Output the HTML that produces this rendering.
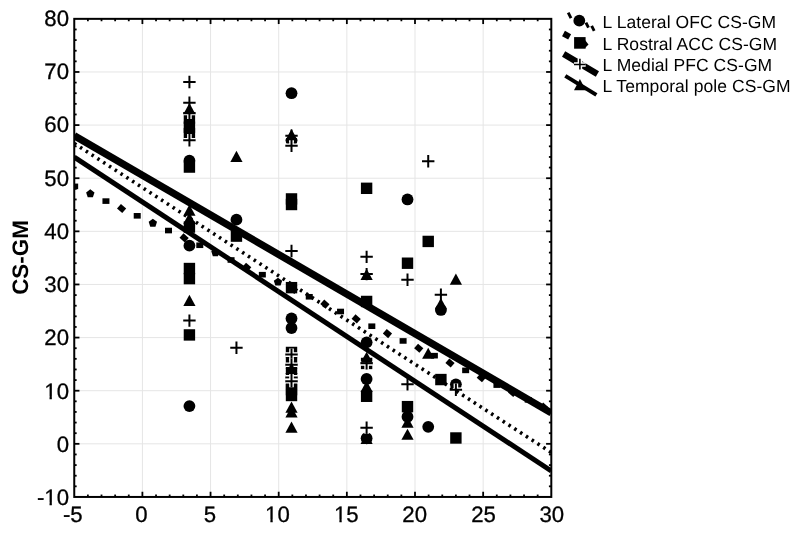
<!DOCTYPE html>
<html><head><meta charset="utf-8"><style>
html,body{margin:0;padding:0;background:#fff;}
body{width:800px;height:535px;overflow:hidden;}
svg{display:block;filter:grayscale(1) blur(0.3px);text-rendering:geometricPrecision;}
</style></head><body>
<svg width="800" height="535" viewBox="0 0 800 535">
<rect width="800" height="535" fill="#fff"/>
<g stroke="#e5e5e5" stroke-width="1" fill="none"><line x1="142.40" y1="18.85" x2="142.40" y2="496.95"/><line x1="210.55" y1="18.85" x2="210.55" y2="496.95"/><line x1="278.70" y1="18.85" x2="278.70" y2="496.95"/><line x1="346.85" y1="18.85" x2="346.85" y2="496.95"/><line x1="415.00" y1="18.85" x2="415.00" y2="496.95"/><line x1="483.15" y1="18.85" x2="483.15" y2="496.95"/><line x1="74.25" y1="443.83" x2="551.30" y2="443.83"/><line x1="74.25" y1="390.71" x2="551.30" y2="390.71"/><line x1="74.25" y1="337.58" x2="551.30" y2="337.58"/><line x1="74.25" y1="284.46" x2="551.30" y2="284.46"/><line x1="74.25" y1="231.34" x2="551.30" y2="231.34"/><line x1="74.25" y1="178.22" x2="551.30" y2="178.22"/><line x1="74.25" y1="125.09" x2="551.30" y2="125.09"/><line x1="74.25" y1="71.97" x2="551.30" y2="71.97"/></g>
<g stroke="#000" stroke-width="1.8" fill="none"><line x1="87.88" y1="496.95" x2="87.88" y2="494.55"/><line x1="87.88" y1="18.85" x2="87.88" y2="21.25"/><line x1="101.51" y1="496.95" x2="101.51" y2="494.55"/><line x1="101.51" y1="18.85" x2="101.51" y2="21.25"/><line x1="115.14" y1="496.95" x2="115.14" y2="494.55"/><line x1="115.14" y1="18.85" x2="115.14" y2="21.25"/><line x1="128.77" y1="496.95" x2="128.77" y2="494.55"/><line x1="128.77" y1="18.85" x2="128.77" y2="21.25"/><line x1="142.40" y1="496.95" x2="142.40" y2="491.75"/><line x1="142.40" y1="18.85" x2="142.40" y2="24.05"/><line x1="156.03" y1="496.95" x2="156.03" y2="494.55"/><line x1="156.03" y1="18.85" x2="156.03" y2="21.25"/><line x1="169.66" y1="496.95" x2="169.66" y2="494.55"/><line x1="169.66" y1="18.85" x2="169.66" y2="21.25"/><line x1="183.29" y1="496.95" x2="183.29" y2="494.55"/><line x1="183.29" y1="18.85" x2="183.29" y2="21.25"/><line x1="196.92" y1="496.95" x2="196.92" y2="494.55"/><line x1="196.92" y1="18.85" x2="196.92" y2="21.25"/><line x1="210.55" y1="496.95" x2="210.55" y2="491.75"/><line x1="210.55" y1="18.85" x2="210.55" y2="24.05"/><line x1="224.18" y1="496.95" x2="224.18" y2="494.55"/><line x1="224.18" y1="18.85" x2="224.18" y2="21.25"/><line x1="237.81" y1="496.95" x2="237.81" y2="494.55"/><line x1="237.81" y1="18.85" x2="237.81" y2="21.25"/><line x1="251.44" y1="496.95" x2="251.44" y2="494.55"/><line x1="251.44" y1="18.85" x2="251.44" y2="21.25"/><line x1="265.07" y1="496.95" x2="265.07" y2="494.55"/><line x1="265.07" y1="18.85" x2="265.07" y2="21.25"/><line x1="278.70" y1="496.95" x2="278.70" y2="491.75"/><line x1="278.70" y1="18.85" x2="278.70" y2="24.05"/><line x1="292.33" y1="496.95" x2="292.33" y2="494.55"/><line x1="292.33" y1="18.85" x2="292.33" y2="21.25"/><line x1="305.96" y1="496.95" x2="305.96" y2="494.55"/><line x1="305.96" y1="18.85" x2="305.96" y2="21.25"/><line x1="319.59" y1="496.95" x2="319.59" y2="494.55"/><line x1="319.59" y1="18.85" x2="319.59" y2="21.25"/><line x1="333.22" y1="496.95" x2="333.22" y2="494.55"/><line x1="333.22" y1="18.85" x2="333.22" y2="21.25"/><line x1="346.85" y1="496.95" x2="346.85" y2="491.75"/><line x1="346.85" y1="18.85" x2="346.85" y2="24.05"/><line x1="360.48" y1="496.95" x2="360.48" y2="494.55"/><line x1="360.48" y1="18.85" x2="360.48" y2="21.25"/><line x1="374.11" y1="496.95" x2="374.11" y2="494.55"/><line x1="374.11" y1="18.85" x2="374.11" y2="21.25"/><line x1="387.74" y1="496.95" x2="387.74" y2="494.55"/><line x1="387.74" y1="18.85" x2="387.74" y2="21.25"/><line x1="401.37" y1="496.95" x2="401.37" y2="494.55"/><line x1="401.37" y1="18.85" x2="401.37" y2="21.25"/><line x1="415.00" y1="496.95" x2="415.00" y2="491.75"/><line x1="415.00" y1="18.85" x2="415.00" y2="24.05"/><line x1="428.63" y1="496.95" x2="428.63" y2="494.55"/><line x1="428.63" y1="18.85" x2="428.63" y2="21.25"/><line x1="442.26" y1="496.95" x2="442.26" y2="494.55"/><line x1="442.26" y1="18.85" x2="442.26" y2="21.25"/><line x1="455.89" y1="496.95" x2="455.89" y2="494.55"/><line x1="455.89" y1="18.85" x2="455.89" y2="21.25"/><line x1="469.52" y1="496.95" x2="469.52" y2="494.55"/><line x1="469.52" y1="18.85" x2="469.52" y2="21.25"/><line x1="483.15" y1="496.95" x2="483.15" y2="491.75"/><line x1="483.15" y1="18.85" x2="483.15" y2="24.05"/><line x1="496.78" y1="496.95" x2="496.78" y2="494.55"/><line x1="496.78" y1="18.85" x2="496.78" y2="21.25"/><line x1="510.41" y1="496.95" x2="510.41" y2="494.55"/><line x1="510.41" y1="18.85" x2="510.41" y2="21.25"/><line x1="524.04" y1="496.95" x2="524.04" y2="494.55"/><line x1="524.04" y1="18.85" x2="524.04" y2="21.25"/><line x1="537.67" y1="496.95" x2="537.67" y2="494.55"/><line x1="537.67" y1="18.85" x2="537.67" y2="21.25"/><line x1="74.25" y1="486.33" x2="76.65" y2="486.33"/><line x1="551.30" y1="486.33" x2="548.90" y2="486.33"/><line x1="74.25" y1="475.70" x2="76.65" y2="475.70"/><line x1="551.30" y1="475.70" x2="548.90" y2="475.70"/><line x1="74.25" y1="465.08" x2="76.65" y2="465.08"/><line x1="551.30" y1="465.08" x2="548.90" y2="465.08"/><line x1="74.25" y1="454.45" x2="76.65" y2="454.45"/><line x1="551.30" y1="454.45" x2="548.90" y2="454.45"/><line x1="74.25" y1="443.83" x2="79.45" y2="443.83"/><line x1="551.30" y1="443.83" x2="546.10" y2="443.83"/><line x1="74.25" y1="433.20" x2="76.65" y2="433.20"/><line x1="551.30" y1="433.20" x2="548.90" y2="433.20"/><line x1="74.25" y1="422.58" x2="76.65" y2="422.58"/><line x1="551.30" y1="422.58" x2="548.90" y2="422.58"/><line x1="74.25" y1="411.95" x2="76.65" y2="411.95"/><line x1="551.30" y1="411.95" x2="548.90" y2="411.95"/><line x1="74.25" y1="401.33" x2="76.65" y2="401.33"/><line x1="551.30" y1="401.33" x2="548.90" y2="401.33"/><line x1="74.25" y1="390.71" x2="79.45" y2="390.71"/><line x1="551.30" y1="390.71" x2="546.10" y2="390.71"/><line x1="74.25" y1="380.08" x2="76.65" y2="380.08"/><line x1="551.30" y1="380.08" x2="548.90" y2="380.08"/><line x1="74.25" y1="369.46" x2="76.65" y2="369.46"/><line x1="551.30" y1="369.46" x2="548.90" y2="369.46"/><line x1="74.25" y1="358.83" x2="76.65" y2="358.83"/><line x1="551.30" y1="358.83" x2="548.90" y2="358.83"/><line x1="74.25" y1="348.21" x2="76.65" y2="348.21"/><line x1="551.30" y1="348.21" x2="548.90" y2="348.21"/><line x1="74.25" y1="337.58" x2="79.45" y2="337.58"/><line x1="551.30" y1="337.58" x2="546.10" y2="337.58"/><line x1="74.25" y1="326.96" x2="76.65" y2="326.96"/><line x1="551.30" y1="326.96" x2="548.90" y2="326.96"/><line x1="74.25" y1="316.33" x2="76.65" y2="316.33"/><line x1="551.30" y1="316.33" x2="548.90" y2="316.33"/><line x1="74.25" y1="305.71" x2="76.65" y2="305.71"/><line x1="551.30" y1="305.71" x2="548.90" y2="305.71"/><line x1="74.25" y1="295.09" x2="76.65" y2="295.09"/><line x1="551.30" y1="295.09" x2="548.90" y2="295.09"/><line x1="74.25" y1="284.46" x2="79.45" y2="284.46"/><line x1="551.30" y1="284.46" x2="546.10" y2="284.46"/><line x1="74.25" y1="273.84" x2="76.65" y2="273.84"/><line x1="551.30" y1="273.84" x2="548.90" y2="273.84"/><line x1="74.25" y1="263.21" x2="76.65" y2="263.21"/><line x1="551.30" y1="263.21" x2="548.90" y2="263.21"/><line x1="74.25" y1="252.59" x2="76.65" y2="252.59"/><line x1="551.30" y1="252.59" x2="548.90" y2="252.59"/><line x1="74.25" y1="241.96" x2="76.65" y2="241.96"/><line x1="551.30" y1="241.96" x2="548.90" y2="241.96"/><line x1="74.25" y1="231.34" x2="79.45" y2="231.34"/><line x1="551.30" y1="231.34" x2="546.10" y2="231.34"/><line x1="74.25" y1="220.71" x2="76.65" y2="220.71"/><line x1="551.30" y1="220.71" x2="548.90" y2="220.71"/><line x1="74.25" y1="210.09" x2="76.65" y2="210.09"/><line x1="551.30" y1="210.09" x2="548.90" y2="210.09"/><line x1="74.25" y1="199.47" x2="76.65" y2="199.47"/><line x1="551.30" y1="199.47" x2="548.90" y2="199.47"/><line x1="74.25" y1="188.84" x2="76.65" y2="188.84"/><line x1="551.30" y1="188.84" x2="548.90" y2="188.84"/><line x1="74.25" y1="178.22" x2="79.45" y2="178.22"/><line x1="551.30" y1="178.22" x2="546.10" y2="178.22"/><line x1="74.25" y1="167.59" x2="76.65" y2="167.59"/><line x1="551.30" y1="167.59" x2="548.90" y2="167.59"/><line x1="74.25" y1="156.97" x2="76.65" y2="156.97"/><line x1="551.30" y1="156.97" x2="548.90" y2="156.97"/><line x1="74.25" y1="146.34" x2="76.65" y2="146.34"/><line x1="551.30" y1="146.34" x2="548.90" y2="146.34"/><line x1="74.25" y1="135.72" x2="76.65" y2="135.72"/><line x1="551.30" y1="135.72" x2="548.90" y2="135.72"/><line x1="74.25" y1="125.09" x2="79.45" y2="125.09"/><line x1="551.30" y1="125.09" x2="546.10" y2="125.09"/><line x1="74.25" y1="114.47" x2="76.65" y2="114.47"/><line x1="551.30" y1="114.47" x2="548.90" y2="114.47"/><line x1="74.25" y1="103.85" x2="76.65" y2="103.85"/><line x1="551.30" y1="103.85" x2="548.90" y2="103.85"/><line x1="74.25" y1="93.22" x2="76.65" y2="93.22"/><line x1="551.30" y1="93.22" x2="548.90" y2="93.22"/><line x1="74.25" y1="82.60" x2="76.65" y2="82.60"/><line x1="551.30" y1="82.60" x2="548.90" y2="82.60"/><line x1="74.25" y1="71.97" x2="79.45" y2="71.97"/><line x1="551.30" y1="71.97" x2="546.10" y2="71.97"/><line x1="74.25" y1="61.35" x2="76.65" y2="61.35"/><line x1="551.30" y1="61.35" x2="548.90" y2="61.35"/><line x1="74.25" y1="50.72" x2="76.65" y2="50.72"/><line x1="551.30" y1="50.72" x2="548.90" y2="50.72"/><line x1="74.25" y1="40.10" x2="76.65" y2="40.10"/><line x1="551.30" y1="40.10" x2="548.90" y2="40.10"/><line x1="74.25" y1="29.47" x2="76.65" y2="29.47"/><line x1="551.30" y1="29.47" x2="548.90" y2="29.47"/></g>
<clipPath id="cp"><rect x="74.25" y="18.85" width="477.05" height="478.10"/></clipPath>
<g clip-path="url(#cp)">
<g fill="#000"><circle cx="189.42" cy="160.69" r="5.9"/><circle cx="189.42" cy="245.68" r="5.9"/><circle cx="189.42" cy="406.11" r="5.9"/><circle cx="236.45" cy="219.65" r="5.9"/><circle cx="291.51" cy="93.22" r="5.9"/><circle cx="291.51" cy="140.50" r="5.9"/><circle cx="291.51" cy="318.46" r="5.9"/><circle cx="291.51" cy="328.02" r="5.9"/><circle cx="366.61" cy="342.36" r="5.9"/><circle cx="366.61" cy="379.02" r="5.9"/><circle cx="366.61" cy="438.25" r="5.9"/><circle cx="407.50" cy="199.47" r="5.9"/><circle cx="407.50" cy="416.74" r="5.9"/><circle cx="428.22" cy="426.83" r="5.9"/><circle cx="440.90" cy="309.96" r="5.9"/><circle cx="455.89" cy="384.33" r="5.9"/><rect x="183.72" y="112.49" width="11.4" height="11.4"/><rect x="183.72" y="121.52" width="11.4" height="11.4"/><rect x="183.72" y="127.89" width="11.4" height="11.4"/><rect x="183.72" y="161.36" width="11.4" height="11.4"/><rect x="183.72" y="221.39" width="11.4" height="11.4"/><rect x="183.72" y="262.82" width="11.4" height="11.4"/><rect x="183.72" y="272.92" width="11.4" height="11.4"/><rect x="183.72" y="329.23" width="11.4" height="11.4"/><rect x="230.75" y="230.42" width="11.4" height="11.4"/><rect x="285.81" y="193.23" width="11.4" height="11.4"/><rect x="285.81" y="198.81" width="11.4" height="11.4"/><rect x="285.81" y="281.95" width="11.4" height="11.4"/><rect x="285.81" y="346.76" width="11.4" height="11.4"/><rect x="285.81" y="357.38" width="11.4" height="11.4"/><rect x="285.81" y="368.01" width="11.4" height="11.4"/><rect x="285.81" y="378.63" width="11.4" height="11.4"/><rect x="285.81" y="383.94" width="11.4" height="11.4"/><rect x="285.81" y="389.79" width="11.4" height="11.4"/><rect x="360.91" y="182.61" width="11.4" height="11.4"/><rect x="360.91" y="295.76" width="11.4" height="11.4"/><rect x="360.91" y="357.75" width="11.4" height="11.4"/><rect x="360.91" y="390.58" width="11.4" height="11.4"/><rect x="401.80" y="257.51" width="11.4" height="11.4"/><rect x="401.80" y="400.94" width="11.4" height="11.4"/><rect x="422.52" y="235.73" width="11.4" height="11.4"/><rect x="435.20" y="373.85" width="11.4" height="11.4"/><rect x="450.19" y="432.28" width="11.4" height="11.4"/><path d="M183.22 82.07H195.62M189.42 75.87V88.27" stroke="#fff" stroke-width="4.6"/><path d="M183.22 82.07H195.62M189.42 75.87V88.27" stroke="#000" stroke-width="2"/><path d="M183.22 102.78H195.62M189.42 96.58V108.98" stroke="#fff" stroke-width="4.6"/><path d="M183.22 102.78H195.62M189.42 96.58V108.98" stroke="#000" stroke-width="2"/><path d="M183.22 112.88H195.62M189.42 106.68V119.08" stroke="#fff" stroke-width="4.6"/><path d="M183.22 112.88H195.62M189.42 106.68V119.08" stroke="#000" stroke-width="2"/><path d="M183.22 140.23H195.62M189.42 134.03V146.43" stroke="#fff" stroke-width="4.6"/><path d="M183.22 140.23H195.62M189.42 134.03V146.43" stroke="#000" stroke-width="2"/><path d="M183.22 320.58H195.62M189.42 314.38V326.78" stroke="#fff" stroke-width="4.6"/><path d="M183.22 320.58H195.62M189.42 314.38V326.78" stroke="#000" stroke-width="2"/><path d="M230.25 347.68H242.65M236.45 341.48V353.88" stroke="#fff" stroke-width="4.6"/><path d="M230.25 347.68H242.65M236.45 341.48V353.88" stroke="#000" stroke-width="2"/><path d="M285.31 135.72H297.71M291.51 129.52V141.92" stroke="#fff" stroke-width="4.6"/><path d="M285.31 135.72H297.71M291.51 129.52V141.92" stroke="#000" stroke-width="2"/><path d="M285.31 145.81H297.71M291.51 139.61V152.01" stroke="#fff" stroke-width="4.6"/><path d="M285.31 145.81H297.71M291.51 139.61V152.01" stroke="#000" stroke-width="2"/><path d="M285.31 250.99H297.71M291.51 244.79V257.19" stroke="#fff" stroke-width="4.6"/><path d="M285.31 250.99H297.71M291.51 244.79V257.19" stroke="#000" stroke-width="2"/><path d="M285.31 354.58H297.71M291.51 348.38V360.78" stroke="#fff" stroke-width="4.6"/><path d="M285.31 354.58H297.71M291.51 348.38V360.78" stroke="#000" stroke-width="2"/><path d="M285.31 364.68H297.71M291.51 358.48V370.88" stroke="#fff" stroke-width="4.6"/><path d="M285.31 364.68H297.71M291.51 358.48V370.88" stroke="#000" stroke-width="2"/><path d="M285.31 377.42H297.71M291.51 371.22V383.62" stroke="#fff" stroke-width="4.6"/><path d="M285.31 377.42H297.71M291.51 371.22V383.62" stroke="#000" stroke-width="2"/><path d="M285.31 381.14H297.71M291.51 374.94V387.34" stroke="#fff" stroke-width="4.6"/><path d="M285.31 381.14H297.71M291.51 374.94V387.34" stroke="#000" stroke-width="2"/><path d="M360.41 256.84H372.81M366.61 250.64V263.04" stroke="#fff" stroke-width="4.6"/><path d="M360.41 256.84H372.81M366.61 250.64V263.04" stroke="#000" stroke-width="2"/><path d="M360.41 274.10H372.81M366.61 267.90V280.30" stroke="#fff" stroke-width="4.6"/><path d="M360.41 274.10H372.81M366.61 267.90V280.30" stroke="#000" stroke-width="2"/><path d="M360.41 363.35H372.81M366.61 357.15V369.55" stroke="#fff" stroke-width="4.6"/><path d="M360.41 363.35H372.81M366.61 357.15V369.55" stroke="#000" stroke-width="2"/><path d="M360.41 427.63H372.81M366.61 421.43V433.83" stroke="#fff" stroke-width="4.6"/><path d="M360.41 427.63H372.81M366.61 421.43V433.83" stroke="#000" stroke-width="2"/><path d="M401.30 279.68H413.70M407.50 273.48V285.88" stroke="#fff" stroke-width="4.6"/><path d="M401.30 279.68H413.70M407.50 273.48V285.88" stroke="#000" stroke-width="2"/><path d="M401.30 384.33H413.70M407.50 378.13V390.53" stroke="#fff" stroke-width="4.6"/><path d="M401.30 384.33H413.70M407.50 378.13V390.53" stroke="#000" stroke-width="2"/><path d="M422.02 161.22H434.42M428.22 155.02V167.42" stroke="#fff" stroke-width="4.6"/><path d="M422.02 161.22H434.42M428.22 155.02V167.42" stroke="#000" stroke-width="2"/><path d="M434.70 294.71H447.10M440.90 288.51V300.91" stroke="#fff" stroke-width="4.6"/><path d="M434.70 294.71H447.10M440.90 288.51V300.91" stroke="#000" stroke-width="2"/><path d="M449.69 389.80H462.09M455.89 383.60V396.00" stroke="#fff" stroke-width="4.6"/><path d="M449.69 389.80H462.09M455.89 383.60V396.00" stroke="#000" stroke-width="2"/><path d="M189.42 103.03L195.52 114.23L183.32 114.23Z"/><path d="M189.42 204.49L195.52 215.69L183.32 215.69Z"/><path d="M189.42 212.46L195.52 223.66L183.32 223.66Z"/><path d="M189.42 294.80L195.52 306.00L183.32 306.00Z"/><path d="M236.45 150.84L242.55 162.04L230.35 162.04Z"/><path d="M291.51 129.06L297.61 140.26L285.41 140.26Z"/><path d="M291.51 362.79L297.61 373.99L285.41 373.99Z"/><path d="M291.51 401.57L297.61 412.77L285.41 412.77Z"/><path d="M291.51 406.35L297.61 417.55L285.41 417.55Z"/><path d="M291.51 421.49L297.61 432.69L285.41 432.69Z"/><path d="M366.61 268.77L372.71 279.97L360.51 279.97Z"/><path d="M366.61 351.64L372.71 362.84L360.51 362.84Z"/><path d="M366.61 380.86L372.71 392.06L360.51 392.06Z"/><path d="M366.61 432.92L372.71 444.12L360.51 444.12Z"/><path d="M407.50 416.45L413.60 427.65L401.40 427.65Z"/><path d="M407.50 428.67L413.60 439.87L401.40 439.87Z"/><path d="M428.22 347.65L434.32 358.85L422.12 358.85Z"/><path d="M440.90 297.99L447.00 309.19L434.80 309.19Z"/><path d="M455.89 273.55L461.99 284.75L449.79 284.75Z"/></g>
<line x1="74.25" y1="143.42" x2="551.30" y2="452.54" stroke="#000" stroke-width="3.6" stroke-dasharray="2.5 4.4"/><g fill="#000"><rect x="71.16" y="183.58" width="7.0" height="5.6"/><path d="M90.30 189.34L94.49 192.38L92.89 197.30L87.72 197.30L86.12 192.38Z"/><rect x="102.44" y="198.30" width="7.0" height="5.6"/><path d="M122.25 213.02L116.97 208.43L120.91 203.90L126.19 208.49Z"/><rect x="133.72" y="213.02" width="7.0" height="5.6"/><path d="M152.86 218.78L157.05 221.82L155.45 226.74L150.27 226.74L148.68 221.82Z"/><rect x="165.00" y="227.74" width="7.0" height="5.6"/><path d="M184.81 242.46L179.53 237.87L183.47 233.34L188.75 237.93Z"/><rect x="196.28" y="242.46" width="7.0" height="5.6"/><path d="M215.42 248.22L219.60 251.26L218.01 256.18L212.83 256.18L211.24 251.26Z"/><rect x="227.56" y="257.18" width="7.0" height="5.6"/><path d="M247.37 271.90L242.09 267.31L246.03 262.78L251.31 267.37Z"/><rect x="258.84" y="271.90" width="7.0" height="5.6"/><path d="M277.98 277.66L282.16 280.70L280.57 285.62L275.39 285.62L273.79 280.70Z"/><path d="M294.29 293.98L289.01 289.39L292.95 284.86L298.23 289.45Z"/><rect x="305.76" y="293.98" width="7.0" height="5.6"/><path d="M325.57 308.70L320.29 304.11L324.22 299.58L329.51 304.17Z"/><rect x="337.04" y="308.70" width="7.0" height="5.6"/><path d="M356.85 323.42L351.57 318.83L355.50 314.30L360.79 318.89Z"/><rect x="368.32" y="323.42" width="7.0" height="5.6"/><path d="M388.13 338.14L382.85 333.54L386.78 329.02L392.07 333.61Z"/><rect x="399.60" y="338.14" width="7.0" height="5.6"/><path d="M419.41 352.86L414.13 348.26L418.06 343.74L423.35 348.33Z"/><rect x="430.88" y="352.86" width="7.0" height="5.6"/><path d="M450.69 367.58L445.41 362.98L449.34 358.46L454.63 363.05Z"/><rect x="462.16" y="367.58" width="7.0" height="5.6"/><path d="M481.97 382.30L476.69 377.70L480.62 373.18L485.91 377.77Z"/><rect x="493.44" y="382.30" width="7.0" height="5.6"/><path d="M513.25 397.02L507.97 392.42L511.90 387.90L517.19 392.49Z"/><rect x="524.72" y="397.02" width="7.0" height="5.6"/><path d="M544.53 411.74L539.25 407.14L543.18 402.62L548.46 407.21Z"/></g><line x1="74.25" y1="135.72" x2="551.30" y2="412.91" stroke="#000" stroke-width="7.2"/><line x1="74.25" y1="157.13" x2="551.30" y2="470.92" stroke="#000" stroke-width="5"/>
</g>
<rect x="74.25" y="18.85" width="477.05" height="478.10" fill="none" stroke="#000" stroke-width="2"/>
<g font-family="'Liberation Sans', sans-serif" font-size="22.2" fill="#000" stroke="#000" stroke-width="0.3"><text x="69.0" y="505.22" text-anchor="end">-10</text><text x="69.0" y="451.95" text-anchor="end">0</text><text x="69.0" y="398.67" text-anchor="end">10</text><text x="69.0" y="345.40" text-anchor="end">20</text><text x="69.0" y="292.12" text-anchor="end">30</text><text x="69.0" y="238.85" text-anchor="end">40</text><text x="69.0" y="185.57" text-anchor="end">50</text><text x="69.0" y="132.30" text-anchor="end">60</text><text x="69.0" y="79.02" text-anchor="end">70</text><text x="69.0" y="25.75" text-anchor="end">80</text><text x="72.80" y="521.9" text-anchor="middle">-5</text><text x="141.35" y="521.9" text-anchor="middle">0</text><text x="209.80" y="521.9" text-anchor="middle">5</text><text x="277.40" y="521.9" text-anchor="middle">10</text><text x="346.30" y="521.9" text-anchor="middle">15</text><text x="414.70" y="521.9" text-anchor="middle">20</text><text x="483.50" y="521.9" text-anchor="middle">25</text><text x="551.75" y="521.9" text-anchor="middle">30</text></g>
<g fill="#fff"><rect x="44.8" y="502.55" width="4.72" height="3.50"/><rect x="51.86" y="502.55" width="5.34" height="3.50"/><rect x="44.8" y="396.55" width="4.72" height="3.50"/><rect x="51.86" y="396.55" width="5.34" height="3.50"/><rect x="265.8" y="519.55" width="4.57" height="3.50"/><rect x="272.71" y="519.55" width="4.49" height="3.50"/><rect x="334.8" y="519.55" width="4.57" height="3.50"/><rect x="341.71" y="519.55" width="4.49" height="3.50"/></g>
<text transform="translate(27.8 257.50) rotate(-90)" text-anchor="middle" font-family="'Liberation Sans', sans-serif" font-weight="bold" font-size="22.4">CS-GM</text>
<g font-family="'Liberation Sans', sans-serif" font-size="17.5" letter-spacing="0.06" fill="#000"><text x="602.6" y="28.2">L Lateral OFC CS-GM</text><text x="602.6" y="49.8">L Rostral ACC CS-GM</text><text x="602.6" y="71.1">L Medial PFC CS-GM</text><text x="602.6" y="92.4">L Temporal pole CS-GM</text></g>
<g fill="#000"><path d="M569.72 18.82L566.90 13.30L569.48 11.98L572.30 17.50Z"/><path d="M587.18 28.25L584.64 23.26L587.22 21.95L589.76 26.94Z"/><path d="M592.88 31.55L590.34 26.56L592.92 25.25L595.46 30.24Z"/><circle cx="579.3" cy="20.7" r="5.9"/><line x1="563.5" y1="33.5" x2="590" y2="48" stroke="#000" stroke-width="6" stroke-dasharray="7 40"/><rect x="574.1" y="37.1" width="11.5" height="11.6"/><path d="M585 40L588.5 44.5L585 48Z"/><line x1="563.6" y1="54" x2="597.4" y2="74" stroke="#000" stroke-width="6.3"/><path d="M574 64.5H585.7M579.9 58.7V69.6" stroke="#fff" stroke-width="4.5"/><path d="M574 64.5H585.7M579.9 58.7V69.6" stroke="#000" stroke-width="1.6"/><line x1="565.3" y1="75.9" x2="596.4" y2="94.9" stroke="#000" stroke-width="4"/><path d="M579.9 79.1L585.8 90.3L574 90.3Z"/></g>
</svg>
</body></html>
